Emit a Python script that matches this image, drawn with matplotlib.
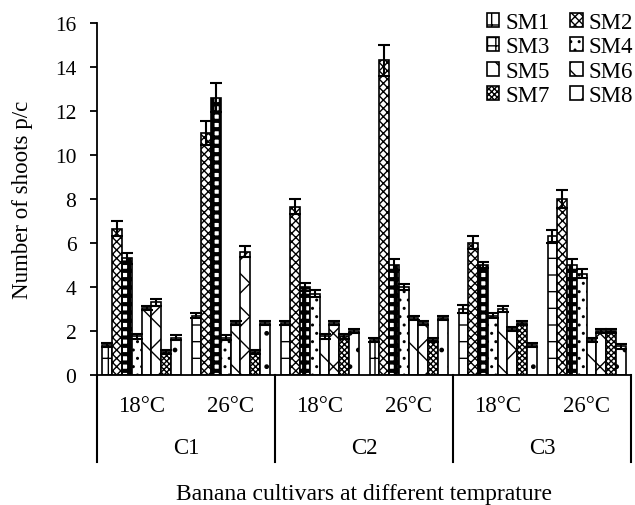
import numpy as np
import matplotlib.pyplot as plt

plt.rcParams['font.family'] = 'Liberation Serif'

# series, temperatures and cultivars
series = ['SM1', 'SM2', 'SM3', 'SM4', 'SM5', 'SM6', 'SM7', 'SM8']
temps = ['18°C', '26°C']
cultivars = ['C1', 'C2', 'C3']

# mean number of shoots per culture (SM1..SM8) for each cultivar / temperature
c1_18 = [1.35, 6.65, 5.3, 1.75, 3.05, 3.3, 1.05, 1.7]
c1_26 = [2.7, 11.0, 12.6, 1.7, 2.35, 5.6, 1.05, 2.35]
c2_18 = [2.35, 7.65, 4.0, 3.7, 1.75, 2.35, 1.75, 2.0]
c2_26 = [1.6, 14.3, 5.0, 4.0, 2.6, 2.35, 1.6, 2.6]
c3_18 = [3.0, 6.0, 5.0, 2.7, 3.0, 2.1, 2.35, 1.35]
c3_26 = [6.3, 8.0, 5.0, 4.6, 1.6, 2.0, 2.0, 1.3]

# standard errors
e1_18 = [0.1, 0.35, 0.25, 0.1, 0.1, 0.15, 0.1, 0.1]
e1_26 = [0.1, 0.55, 0.65, 0.1, 0.1, 0.25, 0.1, 0.1]
e2_18 = [0.1, 0.35, 0.2, 0.15, 0.1, 0.1, 0.1, 0.1]
e2_26 = [0.1, 0.7, 0.25, 0.15, 0.1, 0.1, 0.1, 0.1]
e3_18 = [0.2, 0.3, 0.15, 0.1, 0.15, 0.1, 0.1, 0.1]
e3_26 = [0.3, 0.4, 0.25, 0.2, 0.1, 0.1, 0.1, 0.1]

means = np.array([c1_18, c1_26, c2_18, c2_26, c3_18, c3_26])
errs = np.array([e1_18, e1_26, e2_18, e2_26, e3_18, e3_26])

hatches = ['+', 'xxxx', '++', '..', '\\', 'x', 'xxxxxx', '.']

fig = plt.figure(figsize=(6.35, 5.06), dpi=100)
ax = fig.add_axes([0.153, 0.257, 0.841, 0.696])

x = np.arange(len(means))
w = 0.11
bars = []
for i, name in enumerate(series):
    pos = x + (i - 3.5) * w
    hlw = 3.0 if name == 'SM3' else 1.0
    with plt.rc_context({'hatch.linewidth': hlw}):
        b = ax.bar(pos, means[:, i], w, yerr=errs[:, i], color='white',
                   edgecolor='black', linewidth=1.2, hatch=hatches[i], label=name,
                   error_kw=dict(ecolor='black', elinewidth=1.5, capsize=4, capthick=1.5))
    bars.append(b)

ax.set_xlim(-0.5, 5.5)
ax.set_ylim(0, 16)
ax.set_yticks(range(0, 17, 2))
ax.set_xticks([])
ax.tick_params(axis='y', labelsize=15.5, length=5, width=1.3, pad=10)
for s in ['top', 'right']:
    ax.spines[s].set_visible(False)
for s in ['left', 'bottom']:
    ax.spines[s].set_linewidth(1.3)

ax.set_ylabel('Number of shoots p/c', fontsize=16.5)
ax.yaxis.set_label_coords(-0.12, 0.5)

# category table under the x axis
trans = ax.get_xaxis_transform()
for b in [-0.5, 1.5, 3.5, 5.5]:
    ax.plot([b, b], [0, -0.247], color='black', lw=1.5, transform=trans, clip_on=False)
for k in range(len(means)):
    ax.text(k, -0.088, temps[k % 2], transform=trans, ha='center', va='center', fontsize=16.5)
for g, c in enumerate(cultivars):
    ax.text(2 * g + 0.5, -0.205, c, transform=trans, ha='center', va='center', fontsize=16.5)
ax.text(0.5, -0.338, 'Banana cultivars at different temprature', transform=ax.transAxes,
        ha='center', va='center', fontsize=17)

order = [0, 2, 4, 6, 1, 3, 5, 7]
ax.legend([bars[i] for i in order], [series[i] for i in order], ncol=2, frameon=False,
          fontsize=16.5, loc='upper right', bbox_to_anchor=(633 / 635, 1 - 13 / 506),
          bbox_transform=fig.transFigure, labelspacing=0.15, columnspacing=0.9,
          handletextpad=0.25, handlelength=0.55, handleheight=0.55,
          borderpad=0, borderaxespad=0)

fig.savefig('out.png', dpi=100)
